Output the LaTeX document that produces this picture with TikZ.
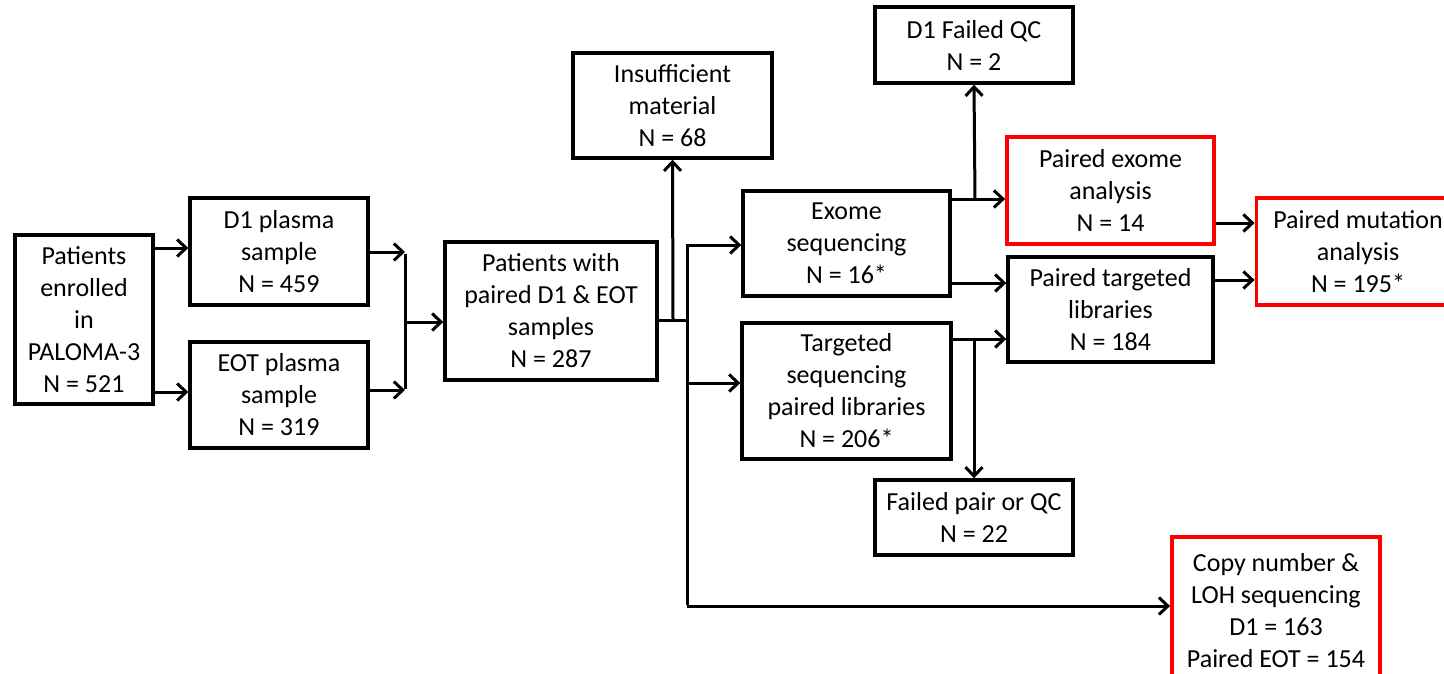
\documentclass[tikz,border=0pt]{standalone}
\usepackage{fontspec}
\setmainfont{Carlito}
\usetikzlibrary{arrows.meta}
\begin{document}
\begin{tikzpicture}[x=1pt,y=-1pt,
  box/.style={draw=black,line width=3.4pt,align=center,inner sep=0pt,
    font=\fontsize{26}{32}\selectfont},
  redbox/.style={box,draw=red,line width=3.8pt},
  conn/.style={line width=3pt},
  arr/.style={conn,-{Straight Barb[length=9pt,width=17pt,line width=3pt]}}]
\useasboundingbox (0,0) rectangle (1444,673);
\clip (0,0) rectangle (1444,673);
\fill[white] (0,0) rectangle (1444,673);
% nodes
\node[box,minimum width=138pt,minimum height=169pt] (A) at (84,319.5) {Patients\\enrolled\\in\\PALOMA-3\\N = 521};
\node[box,minimum width=178pt,minimum height=107pt] (D1) at (279,251.5) {D1 plasma\\sample\\N = 459};
\node[box,minimum width=178pt,minimum height=106pt] (EOT) at (279,395) {EOT plasma\\sample\\N = 319};
\node[box,minimum width=212pt,minimum height=138pt] (PW) at (551,311) {Patients with\\paired D1 \& EOT\\samples\\N = 287};
\node[box,minimum width=199pt,minimum height=105pt] (INS) at (672.5,105.5) {Insufficient\\material\\N = 68};
\node[box,minimum width=207pt,minimum height=105pt] (EX) at (846.5,243.5) {Exome\\sequencing\\N = 16*};
\node[box,minimum width=198pt,minimum height=76pt] (QC) at (974,45) {D1 Failed QC\\N = 2};
\node[redbox,minimum width=207pt,minimum height=107pt] (PEA) at (1110.5,190.5) {Paired exome\\analysis\\N = 14};
\node[box,minimum width=205pt,minimum height=105pt] (PTL) at (1110.5,309.5) {Paired targeted\\libraries\\N = 184};
\node[redbox,minimum width=203pt,minimum height=107pt] (PMA) at (1358,251.5) {Paired mutation\\analysis\\N = 195*};
\node[box,minimum width=209pt,minimum height=136pt] (TS) at (846.5,391) {Targeted\\sequencing\\paired libraries\\N = 206*};
\node[box,minimum width=198pt,minimum height=75pt] (FP) at (974,517.5) {Failed pair or QC\\N = 22};
\node[redbox,minimum width=208pt,minimum height=148pt] (CN) at (1276,611) {Copy number \&\\LOH sequencing\\D1 = 163\\Paired EOT = 154};
% junction coordinates
\coordinate (m1) at (405,252);
\coordinate (m2) at (405,390);
\coordinate (m3) at (405,322);
\coordinate (p1) at (673,320);
\coordinate (s0) at (687,320);
\coordinate (s1) at (687,245);
\coordinate (s2) at (687,383);
\coordinate (s3) at (687,606);
\coordinate (e1) at (975,199);
\coordinate (t1) at (974,339);
% connectors
\draw[arr] (A.east |- 0,248) -- (D1.west |- 0,248);
\draw[arr] (A.east |- 0,392) -- (EOT.west |- 0,392);
\draw[arr] (D1.east |- m1) -- (m1);
\draw[arr] (EOT.east |- m2) -- (m2);
\draw[conn] ([yshift=-1.5pt]m1) -- ([yshift=1.5pt]m2);
\draw[arr] (m3) -- (PW.west |- m3);
\draw[conn] (PW.east |- s0) -- (s0);
\draw[arr] (p1) -- (INS.south);
\draw[conn] ([yshift=-1.5pt]s1) -- ([yshift=1.5pt]s3);
\draw[arr] ([xshift=-1.5pt]s1) -- (EX.west |- s1);
\draw[arr] (s2) -- (TS.west |- s2);
\draw[arr] (s3) -- (CN.west |- s3);
\draw[arr] (EX.east |- e1) -- (PEA.west |- e1);
\draw[arr] (e1) -- (QC.south);
\draw[arr] (EX.east |- 0,283) -- (PTL.west |- 0,283);
\draw[arr] (TS.east |- t1) -- (PTL.west |- t1);
\draw[arr] (t1) -- (FP.north);
\draw[arr] (PEA.east |- 0,223) -- (PMA.west |- 0,223);
\draw[arr] (PTL.east |- 0,280) -- (PMA.west |- 0,280);
\end{tikzpicture}
\end{document}
